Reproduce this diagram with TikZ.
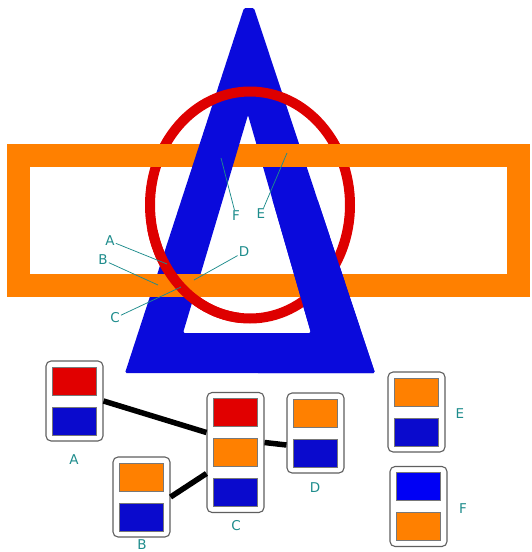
\documentclass[tikz,border=0pt]{standalone}
\usepackage{fontspec}
\setmainfont{DejaVu Sans}
\usetikzlibrary{calc}

\definecolor{bandorange}{RGB}{255,128,0}
\definecolor{ringred}{RGB}{222,0,0}
\definecolor{deltablue}{RGB}{10,10,220}
\definecolor{cellblue}{RGB}{10,10,205}
\definecolor{brightblue}{RGB}{0,0,245}
\definecolor{cellred}{RGB}{225,0,0}
\definecolor{tagteal}{RGB}{30,140,140}
\definecolor{framegray}{RGB}{95,95,95}
\definecolor{cellgray}{RGB}{120,120,120}

\tikzset{
  band/.style={draw=bandorange, line width=23pt},
  ring/.style={draw=ringred, line width=10pt},
  delta/.style={fill=deltablue, even odd rule, rounded corners=1.5pt},
  card/.style={draw=framegray, fill=white, rounded corners=5pt, line width=1.1pt,
               minimum width=57pt, inner sep=0pt},
  cell/.style={draw=cellgray, line width=0.8pt, minimum width=44pt,
               minimum height=28pt, inner sep=0pt},
  link/.style={line width=5.5pt, black},
  tag/.style={text=tagteal, font=\fontsize{13.5}{13.5}\selectfont, inner sep=1pt},
  leader/.style={draw=tagteal, line width=0.75pt},
}

\begin{document}
\begin{tikzpicture}[x=1pt, y=-1pt]
\useasboundingbox (0,0) rectangle (531,552);

% frame, triangle and ring, base layer
\draw[band] (18,155) rectangle (518.5,285.5);
\fill[delta] (125,373) -- (375,373) -- (254,8) -- (244,8) -- cycle
             (183,333) -- (311,333) -- (248,115) -- cycle;
\draw[ring] (250,205) ellipse [x radius=100, y radius=113.5];

% upper band passes over the ring and the right leg
\begin{scope}
  \clip (0,130) rectangle (186,180) (249,130) rectangle (531,180);
  \draw[band] (18,155) rectangle (518.5,285.5);
\end{scope}

% lower band passes over the left leg
\begin{scope}
  \clip (0,262) rectangle (240,305);
  \draw[band] (18,155) rectangle (518.5,285.5);
\end{scope}

% ring passes over the lower band on the left
\begin{scope}
  \clip (100,230) rectangle (240,340);
  \draw[ring] (250,205) ellipse [x radius=100, y radius=113.5];
\end{scope}

% right leg passes over the ring and the lower band
\begin{scope}
  \clip (258,200) rectangle (400,380);
  \fill[delta] (125,373) -- (375,373) -- (254,8) -- (244,8) -- cycle
               (183,333) -- (311,333) -- (248,115) -- cycle;
\end{scope}

% crossing labels
\coordinate (pA) at (167,264);
\coordinate (pB) at (158,285);
\coordinate (pC) at (181,287);
\coordinate (pD) at (194,280);
\coordinate (pE) at (287,153);
\coordinate (pF) at (221,158);
\node[tag] (tA) at (110,241) {A};
\node[tag] (tB) at (103,260) {B};
\node[tag] (tC) at (115,318) {C};
\node[tag] (tD) at (244,252) {D};
\node[tag] (tE) at (261,214) {E};
\node[tag] (tF) at (236,216) {F};
\draw[leader] (tA) -- (pA);
\draw[leader] (tB) -- (pB);
\draw[leader] (tC) -- (pC);
\draw[leader] (tD) -- (pD);
\draw[leader] (tE) -- (pE);
\draw[leader] (tF) -- (pF);

% cards
\node[card, minimum height=80pt]  (A) at (74.5,401) {};
\node[card, minimum height=80pt]  (B) at (141.5,497) {};
\node[card, minimum height=120pt] (C) at (235.5,452.5) {};
\node[card, minimum height=80pt]  (D) at (315.5,433) {};
\node[card, minimum height=80pt]  (E) at (416.5,412) {};
\node[card, minimum height=80pt]  (F) at (418.5,506.5) {};

\node[cell, fill=cellred]    (A1) at ($(A)+(0,-20)$) {};
\node[cell, fill=cellblue]   (A2) at ($(A)+(0,20)$) {};
\node[cell, fill=bandorange] (B1) at ($(B)+(0,-20)$) {};
\node[cell, fill=cellblue]   (B2) at ($(B)+(0,20)$) {};
\node[cell, fill=cellred]    (C1) at ($(C)+(0,-40)$) {};
\node[cell, fill=bandorange] (C2) at (C) {};
\node[cell, fill=cellblue]   (C3) at ($(C)+(0,40)$) {};
\node[cell, fill=bandorange] (D1) at ($(D)+(0,-20)$) {};
\node[cell, fill=cellblue]   (D2) at ($(D)+(0,20)$) {};
\node[cell, fill=bandorange] (E1) at ($(E)+(0,-20)$) {};
\node[cell, fill=cellblue]   (E2) at ($(E)+(0,20)$) {};
\node[cell, fill=brightblue] (F1) at ($(F)+(0,-20)$) {};
\node[cell, fill=bandorange] (F2) at ($(F)+(0,20)$) {};

% links between cards
\draw[link] (A.east) -- ($(C.west)+(0,-20)$);
\draw[link] (B.east) -- ($(C.west)+(0,21)$);
\draw[link] ($(C.east)+(0,-10)$) -- ($(D.west)+(0,12)$);

% card names
\node[tag] (nA) at (74,460) {A};
\node[tag] (nB) at (142,544.5) {B};
\node[tag] (nC) at (236,526) {C};
\node[tag] (nD) at (315,488) {D};
\node[tag] (nE) at (460,414) {E};
\node[tag] (nF) at (463,509) {F};
\end{tikzpicture}
\end{document}
